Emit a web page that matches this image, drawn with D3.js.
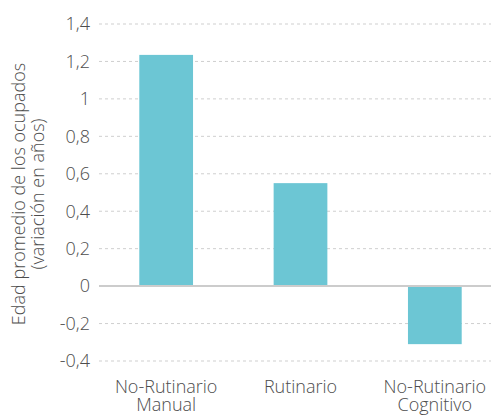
<!DOCTYPE html>
<html><head><meta charset="utf-8">
<script src="https://cdn.jsdelivr.net/npm/d3@7"></script>
<style>body{margin:0;background:#fff}svg{display:block;font-family:"Open Sans",sans-serif}</style>
</head><body>
<svg id="c" width="491" height="415"></svg>
<script>
const categories = [["No-Rutinario","Manual"],["Rutinario"],["No-Rutinario","Cognitivo"]];
const values = [1.235, 0.55, -0.31];
const yTicks = [-0.4,-0.2,0,0.2,0.4,0.6,0.8,1,1.2,1.4];
const yTitle = ["Edad promedio de los ocupados","(variación en años)"];

const svg = d3.select("#c");
const y = d3.scaleLinear().domain([-0.4,1.4]).range([361,24]);
const x = d3.scaleBand().domain(d3.range(categories.length)).range([99,502]).paddingInner(0.6).paddingOuter(0.3);
const fmt = v => String(Math.round(v*10)/10).replace(".",",");
const FS = 18;

// gridlines
svg.append("g").selectAll("line").data(yTicks.filter(t=>t!==0)).join("line")
  .attr("x1",99).attr("x2",491).attr("y1",d=>y(d)).attr("y2",d=>y(d))
  .attr("stroke","#cfcfcf").attr("stroke-width",1).attr("stroke-dasharray","3,3");

// tick labels
svg.append("g").selectAll("text").data(yTicks).join("text")
  .attr("x",90).attr("y",d=>y(d)).attr("dy","0.35em").attr("text-anchor","end")
  .attr("font-size",FS).attr("font-weight",300).attr("fill","#4d4d4d").text(fmt);

// bars
svg.append("g").selectAll("rect").data(values).join("rect")
  .attr("x",(d,i)=>x(i)).attr("width",x.bandwidth())
  .attr("y",d=>y(Math.max(0,d))).attr("height",d=>Math.abs(y(d)-y(0)))
  .attr("fill","#6cc6d4");

// zero line
svg.append("line").attr("x1",99).attr("x2",491).attr("y1",y(0)).attr("y2",y(0))
  .attr("stroke","#cccccc").attr("stroke-width",2);

// x labels
const xl = svg.append("g").selectAll("text").data(categories).join("text")
  .attr("x",(d,i)=>x(i)+x.bandwidth()/2).attr("y",393).attr("text-anchor","middle")
  .attr("font-size",FS).attr("font-weight",300).attr("fill","#4d4d4d");
xl.selectAll("tspan").data(d=>d).join("tspan")
  .attr("x",function(){return this.parentNode.getAttribute("x");})
  .attr("dy",(d,i)=>i===0?0:18).text(d=>d);

// y title
const yt = svg.append("text").attr("transform","translate(0,194) rotate(-90)")
  .attr("text-anchor","middle").attr("font-size",FS).attr("font-weight",300).attr("fill","#4d4d4d");
yt.selectAll("tspan").data(yTitle).join("tspan").attr("x",0).attr("y",(d,i)=>25+i*19).text(d=>d);
</script>
</body></html>
